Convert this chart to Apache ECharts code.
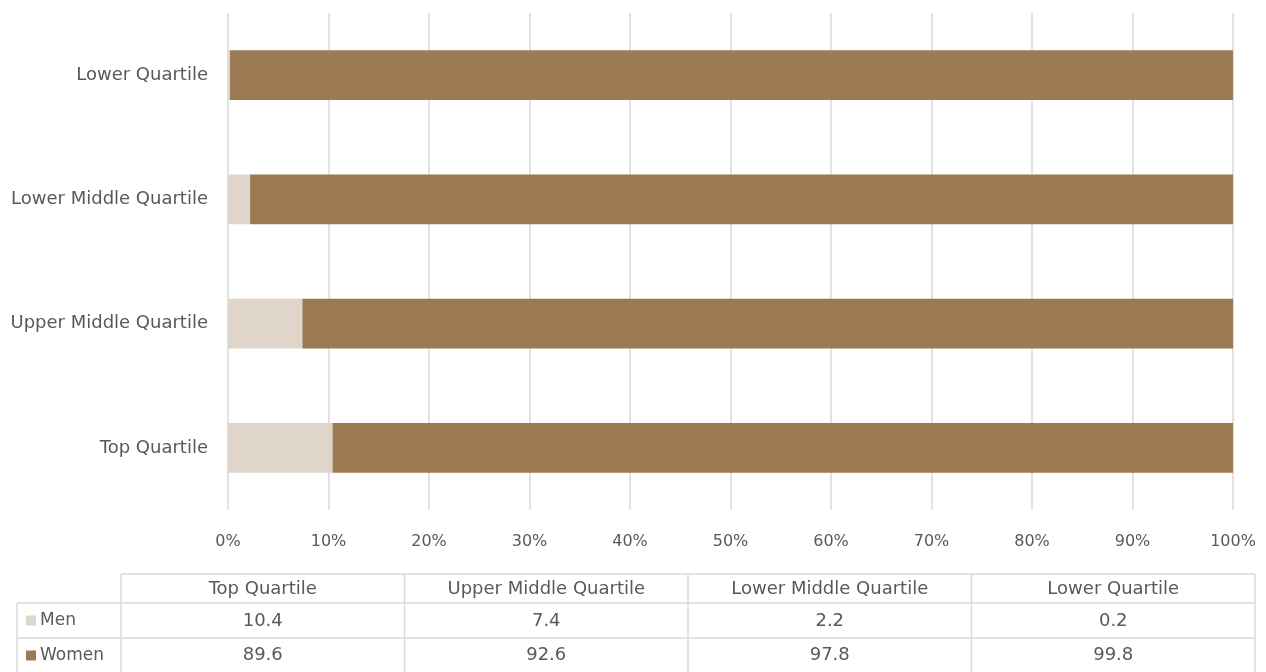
<!DOCTYPE html>
<html><head><meta charset="utf-8">
<script src="https://cdn.jsdelivr.net/npm/echarts@6/dist/echarts.min.js"></script>
<style>html,body{margin:0;padding:0;background:#fff}#c{width:1266px;height:672px}</style>
</head><body><div id="c"></div>
<script>
const categories = ['Top Quartile','Upper Middle Quartile','Lower Middle Quartile','Lower Quartile'];
const men = [10.4, 7.4, 2.2, 0.2];
const women = [89.6, 92.6, 97.8, 99.8];
const seriesNames = ['Men','Women'];
const xTicks = [0,10,20,30,40,50,60,70,80,90,100];

const FONT = '"DejaVu Sans", sans-serif';
const FS = 18;
const TXT = '#595959';
const colors = ['#E0D5CB','#9C7A54'];
const chart = echarts.init(document.getElementById('c'));

// data table layout
const tLeft = 121, tRight = 1255, labL = 17;
const rowY = [574, 603, 638, 673];
const colW = (tRight - tLeft) / categories.length;
const g = [];
const line = (x1,y1,x2,y2)=>g.push({type:'line',shape:{x1,y1,x2,y2},style:{stroke:'#d9d9d9',lineWidth:1.5},silent:true});
line(tLeft,rowY[0],tRight,rowY[0]);
line(labL,rowY[1],tRight,rowY[1]);
line(labL,rowY[2],tRight,rowY[2]);
line(labL,rowY[3],tRight,rowY[3]);
line(labL,rowY[1],labL,rowY[3]);
for(let i=0;i<=categories.length;i++){ const x=tLeft+i*colW; line(x,rowY[0],x,rowY[3]); }
const f = FS+'px '+FONT;
categories.forEach((c,i)=>{
  const cx = tLeft + (i+0.5)*colW;
  g.push({type:'text',x:cx,y:(rowY[0]+rowY[1])/2+1,style:{text:c,fill:TXT,font:f,textAlign:'center',textVerticalAlign:'middle'}});
  g.push({type:'text',x:cx,y:(rowY[1]+rowY[2])/2+1,style:{text:men[i].toFixed(1),fill:TXT,font:f,textAlign:'center',textVerticalAlign:'middle'}});
  g.push({type:'text',x:cx,y:(rowY[2]+rowY[3])/2,style:{text:women[i].toFixed(1),fill:TXT,font:f,textAlign:'center',textVerticalAlign:'middle'}});
});
[men,women].forEach((arr,k)=>{
  const cy=(rowY[1+k]+rowY[2+k])/2;
  g.push({type:'rect',shape:{x:26,y:cy-5,width:10,height:10},style:{fill:colors[k]}});
  g.push({type:'text',x:40,y:cy,style:{text:seriesNames[k],fill:TXT,font:'17px '+FONT,textAlign:'left',textVerticalAlign:'middle'}});
});

chart.setOption({
  animation:false,
  backgroundColor:'#fff',
  textStyle:{fontFamily:FONT},
  grid:{left:228,right:33,top:13,bottom:162},
  xAxis:{type:'value',min:0,max:100,interval:10,
    axisLine:{show:false},axisTick:{show:false},
    splitLine:{show:true,lineStyle:{color:'#d9d9d9',width:1.5}},
    axisLabel:{formatter:v=>v+'%',color:TXT,fontSize:16,margin:24,fontFamily:FONT}},
  yAxis:{type:'category',data:categories,
    axisLine:{show:false},axisTick:{show:false},
    axisLabel:{color:TXT,fontSize:FS,margin:20,fontFamily:FONT}},
  series:[
    {name:seriesNames[0],type:'bar',stack:'a',data:men,barWidth:'40%',itemStyle:{color:colors[0]}},
    {name:seriesNames[1],type:'bar',stack:'a',data:women,barWidth:'40%',itemStyle:{color:colors[1]}}
  ],
  graphic:g
});
</script></body></html>
